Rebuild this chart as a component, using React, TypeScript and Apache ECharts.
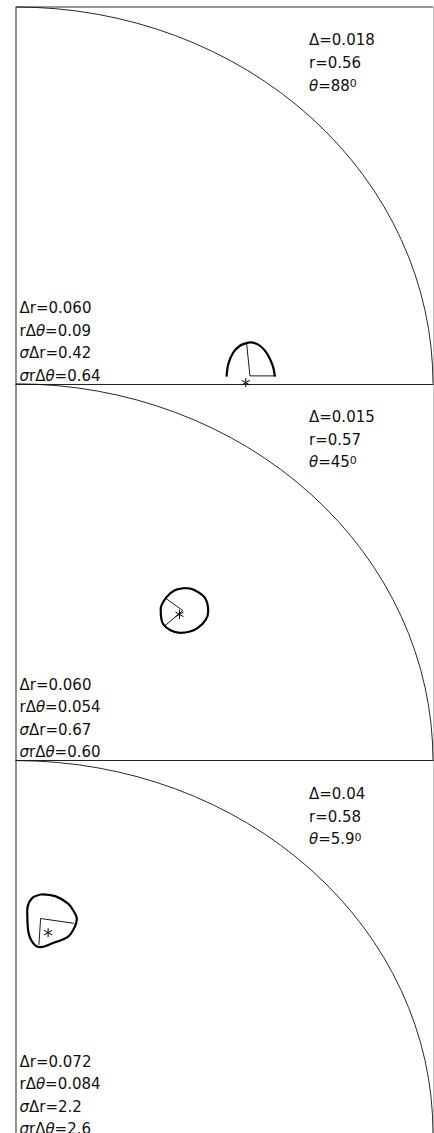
import React, { useEffect, useRef } from "react";
import * as echarts from "echarts";

// ---- data (x = r·sinθ, y = r·cosθ, normalised to the unit quarter circle) ----
const contour1 = [
  [0.505, 0.019], [0.509, 0.052], [0.521, 0.083], [0.537, 0.101], [0.553, 0.108],
  [0.561, 0.11], [0.581, 0.104], [0.597, 0.088], [0.609, 0.066], [0.617, 0.043], [0.621, 0.019],
];
const contour2 = [
  [0.405, 0.458], [0.425, 0.454], [0.453, 0.432], [0.461, 0.396], [0.436, 0.352],
  [0.393, 0.339], [0.353, 0.362], [0.347, 0.402], [0.361, 0.434], [0.381, 0.452], [0.405, 0.458],
];
const contour3 = [
  [0.062, 0.641], [0.094, 0.636], [0.125, 0.616], [0.137, 0.598], [0.146, 0.576],
  [0.141, 0.554], [0.125, 0.527], [0.089, 0.51], [0.059, 0.499], [0.041, 0.51],
  [0.029, 0.545], [0.027, 0.598], [0.038, 0.63], [0.062, 0.641],
];
const wedge1 = [[0.553, 0.108], [0.561, 0.021], [0.619, 0.021]];
const wedge2 = [[0.36, 0.43], [0.4, 0.398], [0.355, 0.356]];
const wedge3 = [[0.139, 0.563], [0.059, 0.576], [0.055, 0.505]];
const stars = [[0.551, 0.003], [0.392, 0.388], [0.077, 0.538]];

const contours = [contour1, contour2, contour3];
const wedges = [wedge1, wedge2, wedge3];

const deltaValues = ["0.018", "0.015", "0.04"];
const rValues = ["0.56", "0.57", "0.58"];
const thetaValues = ["88", "45", "5.9"];
const drValues = ["0.060", "0.060", "0.072"];
const rdthValues = ["0.09", "0.054", "0.084"];
const sdrValues = ["0.42", "0.67", "2.2"];
const srdthValues = ["0.64", "0.60", "2.6"];

// ---- layout ----
const LEFT = 16;
const WIDTH = 417;
const TOP0 = 7;
const PITCH = 376.8;
const FONT = "DejaVu Sans";
const FS = 15;

export default function App() {
  const ref = useRef<HTMLDivElement>(null);

  useEffect(() => {
    if (!ref.current) return;
    const chart = echarts.init(ref.current, undefined, { renderer: "svg" });

    const grids: any[] = [];
    const xAxes: any[] = [];
    const yAxes: any[] = [];
    const series: any[] = [];
    const graphics: any[] = [];

    const rich = {
      i: { fontStyle: "italic", fontSize: FS, fontFamily: FONT, fill: "#111" },
      sup: { fontSize: 11, fontFamily: FONT, verticalAlign: "top", fill: "#111" },
    };

    for (let p = 0; p < 3; p++) {
      const top = TOP0 + p * PITCH;
      grids.push({ left: LEFT, top, width: WIDTH, height: PITCH });
      xAxes.push({
        gridIndex: p, type: "value", min: 0, max: 1,
        axisLine: { show: true, onZero: false, lineStyle: { color: "#222", width: 1.2 } },
        axisTick: { show: false }, axisLabel: { show: false }, splitLine: { show: false },
      });
      yAxes.push({
        gridIndex: p, type: "value", min: 0, max: 1,
        axisLine: { show: true, onZero: false, lineStyle: { color: "#777", width: 1.6 } },
        axisTick: { show: false }, axisLabel: { show: false }, splitLine: { show: false },
      });

      // unit quarter circle (elliptical in pixels)
      series.push({
        type: "custom", xAxisIndex: p, yAxisIndex: p, data: [[0, 0]], silent: true,
        renderItem: (params: any, api: any) => {
          const o = api.coord([0, 0]);
          const a = api.coord([0, 1]);
          const b = api.coord([1, 0]);
          const rx = b[0] - o[0];
          const ry = o[1] - a[1];
          return {
            type: "path",
            shape: { pathData: `M ${a[0]} ${a[1]} A ${rx} ${ry} 0 0 1 ${b[0]} ${b[1]}` },
            style: { stroke: "#111", fill: "none", lineWidth: 0.9 },
          };
        },
      });

      const c = contours[p];
      series.push({
        type: "line", xAxisIndex: p, yAxisIndex: p, data: c, showSymbol: false, smooth: 0.35,
        lineStyle: { color: "#000", width: 2.2 }, silent: true,
      });
      series.push({
        type: "line", xAxisIndex: p, yAxisIndex: p, data: wedges[p], showSymbol: false,
        lineStyle: { color: "#000", width: 0.9 }, silent: true,
      });
      series.push({
        type: "custom", xAxisIndex: p, yAxisIndex: p, data: [stars[p]], silent: true, z: 5,
        renderItem: (params: any, api: any) => {
          const pt = api.coord([api.value(0), api.value(1)]);
          const s = { stroke: "#000", lineWidth: 1 };
          return {
            type: "group",
            children: [
              { type: "line", shape: { x1: pt[0], y1: pt[1] - 4.5, x2: pt[0], y2: pt[1] + 4.5 }, style: s },
              { type: "line", shape: { x1: pt[0] - 4, y1: pt[1] - 2.3, x2: pt[0] + 4, y2: pt[1] + 2.3 }, style: s },
              { type: "line", shape: { x1: pt[0] - 4, y1: pt[1] + 2.3, x2: pt[0] + 4, y2: pt[1] - 2.3 }, style: s },
            ],
          };
        },
      });

      const rightTexts = [
        `Δ=${deltaValues[p]}`,
        `r=${rValues[p]}`,
        `{i|θ}=${thetaValues[p]}{sup|0}`,
      ];
      rightTexts.forEach((t, k) => {
        graphics.push({
          type: "text", x: 309, y: top + 33.3 + k * 22.6, silent: true,
          style: { text: t, fontSize: FS, fontFamily: FONT, fill: "#111", verticalAlign: "middle", rich },
        });
      });
      const leftTexts = [
        `Δr=${drValues[p]}`,
        `rΔ{i|θ}=${rdthValues[p]}`,
        `{i|σ}Δr=${sdrValues[p]}`,
        `{i|σ}rΔ{i|θ}=${srdthValues[p]}`,
      ];
      leftTexts.forEach((t, k) => {
        graphics.push({
          type: "text", x: 19.5, y: top + 301 + k * 22.5, silent: true,
          style: { text: t, fontSize: FS, fontFamily: FONT, fill: "#111", verticalAlign: "middle", rich },
        });
      });
    }

    graphics.push({
      type: "line", silent: true,
      shape: { x1: LEFT, y1: TOP0, x2: LEFT + WIDTH, y2: TOP0 },
      style: { stroke: "#777", lineWidth: 1.6 },
    });
    graphics.push({
      type: "line", silent: true,
      shape: { x1: 433.5, y1: TOP0, x2: 433.5, y2: 1133 },
      style: { stroke: "#c8c8c8", lineWidth: 1 },
    });

    chart.setOption({
      animation: false,
      backgroundColor: "#fff",
      grid: grids,
      xAxis: xAxes,
      yAxis: yAxes,
      series,
      graphic: graphics,
    });

    return () => chart.dispose();
  }, []);

  return (
    <div
      ref={ref}
      style={{ position: "absolute", left: 0, top: 0, width: 434, height: 1133 }}
    />
  );
}
